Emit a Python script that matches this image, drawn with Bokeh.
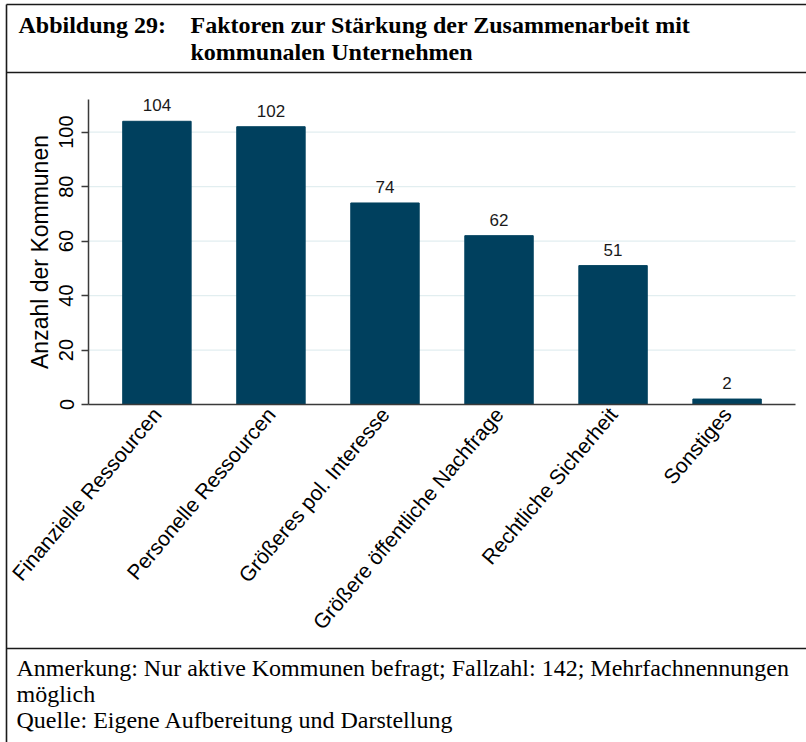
from bokeh.plotting import figure
from bokeh.models import ColumnDataSource, FixedTicker, Range1d, LinearAxis
from bokeh.core.properties import value
from bokeh.embed import file_html
from bokeh.resources import INLINE

# ---- data ----
categories = [
    "Finanzielle Ressourcen",
    "Personelle Ressourcen",
    "Größeres pol. Interesse",
    "Größere öffentliche Nachfrage",
    "Rechtliche Sicherheit",
    "Sonstiges",
]
counts = [104, 102, 74, 62, 51, 2]
y_ticks = [0, 20, 40, 60, 80, 100]
title_label = "Abbildung 29:"
title_lines = ["Faktoren zur Stärkung der Zusammenarbeit mit", "kommunalen Unternehmen"]
y_axis_label = "Anzahl der Kommunen"
footer_lines = [
    "Anmerkung: Nur aktive Kommunen befragt; Fallzahl: 142; Mehrfachnennungen",
    "möglich",
    "Quelle: Eigene Aufbereitung und Darstellung",
]

# ---- layout (canvas pixels) ----
W, H = 806, 742
PL, PR, PT, PB = 88, 795, 99, 404     # plot area edges
X0, X1 = -0.6, len(categories) - 0.4  # category extent
Y0, Y1 = 0, 112                        # value extent
ppx = (PR - PL) / (X1 - X0)
ppy = (PB - PT) / (Y1 - Y0)
BAR = "#00405e"
AXC = "#3a3a3a"
SANS = value("Liberation Sans")
SERIF = value("Liberation Serif")

p = figure(width=W, height=H,
           x_range=Range1d(X0 - PL / ppx, X1 + (W - PR) / ppx),
           y_range=Range1d(Y0 - (H - PB) / ppy, Y1 + PT / ppy),
           toolbar_location=None, output_backend="svg", tools="",
           x_axis_location=None, y_axis_location=None, min_border=0,
           outline_line_color=None, background_fill_color="white",
           border_fill_color="white")
p.grid.visible = False
p.extra_x_ranges["px"] = Range1d(0, W)
p.extra_y_ranges["px"] = Range1d(H, 0)

# grid lines
gy = y_ticks[1:]
p.segment(x0=[X0] * len(gy), x1=[X1] * len(gy), y0=gy, y1=gy,
          line_color="#e2eef0", line_width=1.2)

# bars + value labels
xs = list(range(len(categories)))
src = ColumnDataSource(dict(x=xs, top=counts, lbl=[str(c) for c in counts]))
p.vbar(x="x", top="top", bottom=0, width=0.6, source=src, fill_color=BAR, line_color=BAR)
p.text(x="x", y="top", text="lbl", source=src, text_align="center",
       text_baseline="alphabetic", y_offset=-16, text_font=SANS,
       text_font_size="17px", text_color="#1a1a1a")

# axes
xaxis = LinearAxis(fixed_location=0, bounds=(X0, X1), ticker=FixedTicker(ticks=xs),
                   major_label_overrides={i: c for i, c in enumerate(categories)},
                   major_label_orientation=0.87, major_tick_out=0, major_tick_in=0,
                   minor_tick_line_color=None, major_label_standoff=6,
                   major_label_text_font="Liberation Sans",
                   major_label_text_font_size="21px", major_label_text_color="black",
                   axis_line_color=AXC, axis_line_width=1.5)
p.add_layout(xaxis, "below")

yaxis = LinearAxis(fixed_location=X0, bounds=(Y0, Y1), ticker=FixedTicker(ticks=y_ticks),
                   major_label_orientation="vertical", major_tick_out=7, major_tick_in=0,
                   minor_tick_line_color=None, major_label_standoff=8,
                   major_label_text_font="Liberation Sans",
                   major_label_text_font_size="20px", major_label_text_color="black",
                   axis_label=y_axis_label, axis_label_text_font="Liberation Sans",
                   axis_label_text_font_size="23px", axis_label_text_font_style="normal",
                   axis_label_text_color="black", axis_label_standoff=4,
                   axis_line_color=AXC, axis_line_width=1.5,
                   major_tick_line_color=AXC, major_tick_line_width=1.5)
p.add_layout(yaxis, "left")

# box lines of the figure frame (pixel coordinates)
bx0 = [6, 6, 6, 6]
by0 = [4, 4, 72, 648]
bx1 = [W, 6, W, W]
by1 = [4, H, 72, 648]
p.segment(x0=bx0, y0=by0, x1=bx1, y1=by1, x_range_name="px", y_range_name="px",
          line_color="#1a1a1a", line_width=1.6)

# title
p.text(x=[18, 190, 190], y=[24, 24, 51], text=[title_label] + title_lines,
       x_range_name="px", y_range_name="px", text_font=SERIF, text_font_style="bold",
       text_font_size="24px", text_baseline="alphabetic", text_color="black")

# footer
p.text(x=[16, 16, 16], y=[667, 693, 719], text=footer_lines,
       x_range_name="px", y_range_name="px", text_font=SERIF,
       text_font_size="24px", text_baseline="alphabetic", text_color="black")

open("out.html", "w").write(file_html(p, INLINE))
